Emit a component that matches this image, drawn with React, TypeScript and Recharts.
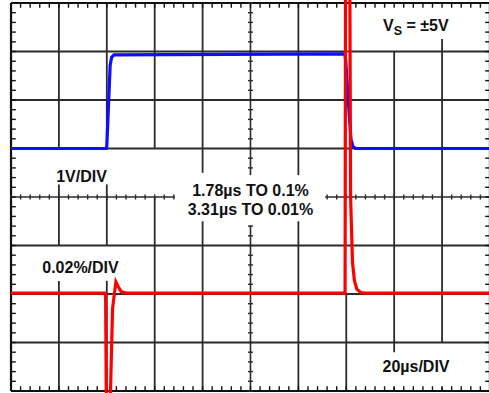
import React from "react";
import { LineChart, Line, XAxis, YAxis, ReferenceLine } from "recharts";

// scope traces, x in divisions (20us/div), y in divisions from screen centre
const blueTime = [0, 1.99, 2.0, 2.04, 2.07, 2.1, 2.15, 4.5, 6.97, 6.99, 7.04, 7.1, 7.14, 7.2, 10];
const blueVolts = [1.0, 1.0, 1.05, 2.0, 2.72, 2.88, 2.93, 2.94, 2.95, 2.8, 2.0, 1.18, 1.04, 1.0, 1.0];

const redTime = [0, 1.975, 1.99, 2.07, 2.12, 2.19, 2.24, 2.3, 2.4, 6.975, 6.985, 7.075, 7.09, 7.13, 7.17, 7.22, 7.3, 7.4, 10];
const redError = [-1.98, -1.98, -4.3, -4.3, -2.3, -1.75, -1.85, -1.95, -1.98, -1.98, 4.3, 4.3, 0, -1.35, -1.72, -1.9, -1.97, -1.98, -1.98];

const majorX = [1, 2, 3, 4, 6, 7, 8, 9];
const majorY = [3, 2, 1, -1, -2, -3];

const W = 489;
const H = 393;
const X_DOMAIN: [number, number] = [-0.23, 9.98];
const Y_DOMAIN: [number, number] = [-4.041, 4.062];

// where the label boxes blank out the graticule
const xGaps: Record<number, [number, number][]> = {
  1: [[-1.73, -1], [0.26, 1]],
  2: [[-1.73, -1], [0.26, 1]],
  3: [[0, 1]],
  4: [[-0.5, 0.5]],
  5: [[-0.58, 0.45]],
  6: [[-0.5, 0.45]],
  7: [[-1.98, 4]],
  8: [[-3.92, -3.2], [3, 4]],
  9: [[-3.92, -3], [3.26, 4]],
};
const yGaps: Record<number, [number, number][]> = {
  0: [[3.42, 6.56]],
};

const blueData = blueTime.map((x, i) => ({ x, y: blueVolts[i] }));
const redData = redTime.map((x, i) => ({ x, y: redError[i] }));

const GRID = "#2b2b2b";
const FONT = "'Liberation Sans', Arial, sans-serif";

function spans(from: number, to: number, gaps: [number, number][] = []) {
  let out: [number, number][] = [[from, to]];
  gaps.forEach(([a, b]) => {
    const next: [number, number][] = [];
    out.forEach(([s, e]) => {
      if (b <= s || a >= e) next.push([s, e]);
      else {
        if (a > s) next.push([s, a]);
        if (b < e) next.push([b, e]);
      }
    });
    out = next;
  });
  return out;
}

const inGap = (v: number, gaps: [number, number][] = []) => gaps.some(([a, b]) => v > a && v < b);

function graticule() {
  const segs: { a: { x: number; y: number }; b: { x: number; y: number }; w: number; c: string }[] = [];
  majorX.forEach(x => spans(-4, 4, xGaps[x]).forEach(([s, e]) => segs.push({ a: { x, y: s }, b: { x, y: e }, w: 1.8, c: GRID })));
  majorY.forEach(y => spans(0, 10, yGaps[y]).forEach(([s, e]) => segs.push({ a: { x: s, y }, b: { x: e, y }, w: 1.8, c: GRID })));
  // centre lines
  spans(-4, 4, xGaps[5]).forEach(([s, e]) => segs.push({ a: { x: 5, y: s }, b: { x: 5, y: e }, w: 1.6, c: GRID }));
  spans(0, 10, yGaps[0]).forEach(([s, e]) => segs.push({ a: { x: s, y: 0 }, b: { x: e, y: 0 }, w: 1.6, c: GRID }));
  // frame
  segs.push({ a: { x: 0, y: 4 }, b: { x: 10, y: 4 }, w: 2.2, c: "#111" });
  segs.push({ a: { x: 0, y: -4 }, b: { x: 10, y: -4 }, w: 2.2, c: "#111" });
  segs.push({ a: { x: 0, y: -4 }, b: { x: 0, y: 4 }, w: 2.2, c: "#111" });
  segs.push({ a: { x: 10, y: -4 }, b: { x: 10, y: 4 }, w: 2.2, c: "#111" });

  const tx = 0.1, ty = 0.098, cx = 0.052, cy = 0.052;
  for (let i = 0; i <= 50; i++) {
    const x = i / 5;
    segs.push({ a: { x, y: 4 }, b: { x, y: 4 - ty }, w: 1.4, c: "#111" });
    segs.push({ a: { x, y: -4 }, b: { x, y: -4 + ty }, w: 1.4, c: "#111" });
    if (!inGap(x, yGaps[0])) segs.push({ a: { x, y: -cy }, b: { x, y: cy }, w: 1.4, c: GRID });
  }
  for (let i = 0; i <= 40; i++) {
    const y = -4 + i / 5;
    segs.push({ a: { x: 0, y }, b: { x: tx, y }, w: 1.4, c: "#111" });
    segs.push({ a: { x: 10, y }, b: { x: 10 - tx, y }, w: 1.4, c: "#111" });
    if (!inGap(y, xGaps[5])) segs.push({ a: { x: 5 - cx, y }, b: { x: 5 + cx, y }, w: 1.4, c: GRID });
  }
  return segs.map((s, i) => (
    <ReferenceLine key={i} segment={[s.a, s.b]} stroke={s.c} strokeWidth={s.w} ifOverflow="visible" />
  ));
}

const label = { fontFamily: FONT, fontWeight: 700, fontSize: 16, fill: "#111" } as const;

export default function App() {
  return (
    <div style={{ position: "absolute", left: 0, top: 0, width: W, height: H, overflow: "hidden", background: "#fff" }}>
      <LineChart width={W} height={H} margin={{ top: 0, right: 0, bottom: 0, left: 0 }}>
        <XAxis type="number" dataKey="x" domain={X_DOMAIN} allowDataOverflow hide />
        <YAxis type="number" domain={Y_DOMAIN} allowDataOverflow hide />
        {graticule()}
        <Line data={blueData} dataKey="y" type="linear" stroke="#0d0dff" strokeWidth={3.2} dot={false} activeDot={false} isAnimationActive={false} />
        <Line data={redData} dataKey="y" type="linear" stroke="#ff0000" strokeWidth={3.2} dot={false} activeDot={false} isAnimationActive={false} />
      </LineChart>
      <svg width={W} height={H} style={{ position: "absolute", left: 0, top: 0, pointerEvents: "none" }}>
        <text x={383} y={31} {...label}>
          V<tspan fontSize={12.5} dy={4}>S</tspan>
          <tspan dy={-4}> = ±5V</tspan>
        </text>
        <text x={81.5} y={182} textAnchor="middle" {...label}>1V/DIV</text>
        <text x={250.5} y={195.5} textAnchor="middle" {...label}>1.78µs TO 0.1%</text>
        <text x={250.5} y={215} textAnchor="middle" {...label}>3.31µs TO 0.01%</text>
        <text x={80.5} y={272.5} textAnchor="middle" {...label}>0.02%/DIV</text>
        <text x={416} y={371.5} textAnchor="middle" {...label}>20µs/DIV</text>
      </svg>
    </div>
  );
}
